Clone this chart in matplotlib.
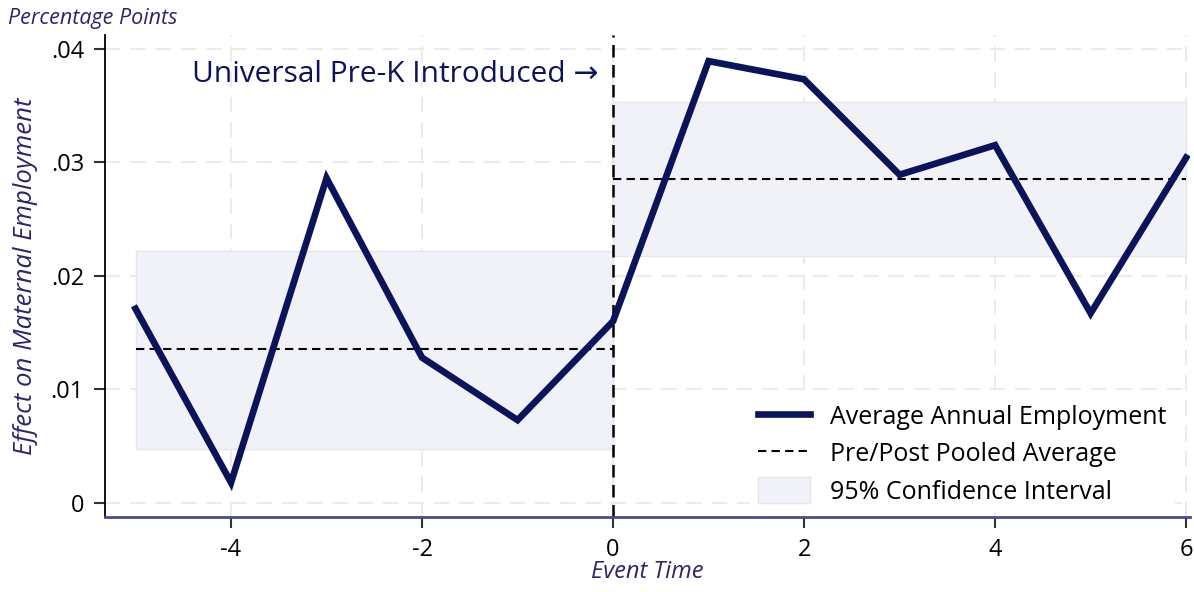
import numpy as np
import matplotlib
matplotlib.use("Agg")
import matplotlib.pyplot as plt
from matplotlib.patches import Patch
from matplotlib.lines import Line2D

plt.rcParams["font.family"] = ["Open Sans", "DejaVu Sans"]
plt.rcParams["axes.unicode_minus"] = False

# Data
event_time = [-5, -4, -3, -2, -1, 0, 1, 2, 3, 4, 5, 6]
effect = [0.0171, 0.0018, 0.0286, 0.0128, 0.0073, 0.0160,
          0.0389, 0.0373, 0.0289, 0.0315, 0.0167, 0.0304]

pre_range = [-5, 0]
post_range = [0, 6]
pre_mean = 0.01357
post_mean = 0.02855
pre_ci = [0.00476, 0.0222]
post_ci = [0.02176, 0.03533]

x_ticks = [-4, -2, 0, 2, 4, 6]
y_ticks = [0, 0.01, 0.02, 0.03, 0.04]
y_tick_labels = ["0", ".01", ".02", ".03", ".04"]

navy = "#0c1459"
label_col = "#2a2668"
band_col = "#f1f2f7"

fig = plt.figure(figsize=(11.94, 5.92), dpi=100)
ax = fig.add_axes([0.0879, 0.1267, 0.9087, 0.8142])

# confidence bands
ax.fill_between(pre_range, pre_ci[0], pre_ci[1], color=band_col,
                edgecolor="#e3e5ef", linewidth=1, zorder=1)
ax.fill_between(post_range, post_ci[0], post_ci[1], color=band_col,
                edgecolor="#e3e5ef", linewidth=1, zorder=1)

# pooled averages
ax.plot(pre_range, [pre_mean, pre_mean], color="black", ls=(0, (4, 2.5)), lw=1.5, zorder=3)
ax.plot(post_range, [post_mean, post_mean], color="black", ls=(0, (4, 2.5)), lw=1.5, zorder=3)

# event line
ax.axvline(0, color="black", ls=(0, (5, 3)), lw=1.8, zorder=2)

ax.plot(event_time, effect, color=navy, lw=4.8, zorder=4, solid_joinstyle="miter")

ax.set_xlim(-5.32, 6.04)
ax.set_ylim(-0.00123, 0.0412)
ax.set_xticks(x_ticks)
ax.set_xticklabels([str(t) for t in x_ticks])
ax.set_yticks(y_ticks)
ax.set_yticklabels(y_tick_labels)

ax.grid(True, color="#ebebeb", ls=(0, (8, 5)), lw=1.4, zorder=0)
ax.set_axisbelow(True)

for s in ["top", "right"]:
    ax.spines[s].set_visible(False)
ax.spines["left"].set_color("black")
ax.spines["left"].set_linewidth(1.3)
ax.spines["bottom"].set_color("#4a4c85")
ax.spines["bottom"].set_linewidth(2)
ax.tick_params(axis="both", labelsize=17, length=8, width=1.5, color="#333333", pad=7)

ax.set_xlabel("Event Time", fontsize=17, style="italic", color=label_col, labelpad=-1)
ax.set_ylabel("Effect on Maternal Employment", fontsize=18.5, style="italic",
              color=label_col, labelpad=9)
fig.text(0.007, 0.968, "Percentage Points", fontsize=15.5, style="italic",
         color=label_col, va="center", ha="left")

ax.text(-0.15, 0.0377, "Universal Pre-K Introduced \u2192", fontsize=21.5,
        color=navy, ha="right", va="center", zorder=5)

handles = [
    Line2D([0], [0], color=navy, lw=4.8),
    Line2D([0], [0], color="black", ls=(0, (4, 2.5)), lw=1.5),
    Patch(facecolor=band_col, edgecolor="#e3e5ef"),
]
labels = ["Average Annual Employment", "Pre/Post Pooled Average", "95% Confidence Interval"]
leg = ax.legend(handles, labels, loc="lower right", bbox_to_anchor=(0.9854, 0.01),
                fontsize=18, frameon=True, framealpha=1, edgecolor="white",
                fancybox=False, handlelength=2.1, handleheight=1.2, handletextpad=0.8,
                borderaxespad=0, labelspacing=0.4, borderpad=0.3)
leg.set_zorder(6)

fig.savefig("out.png", dpi=100)
